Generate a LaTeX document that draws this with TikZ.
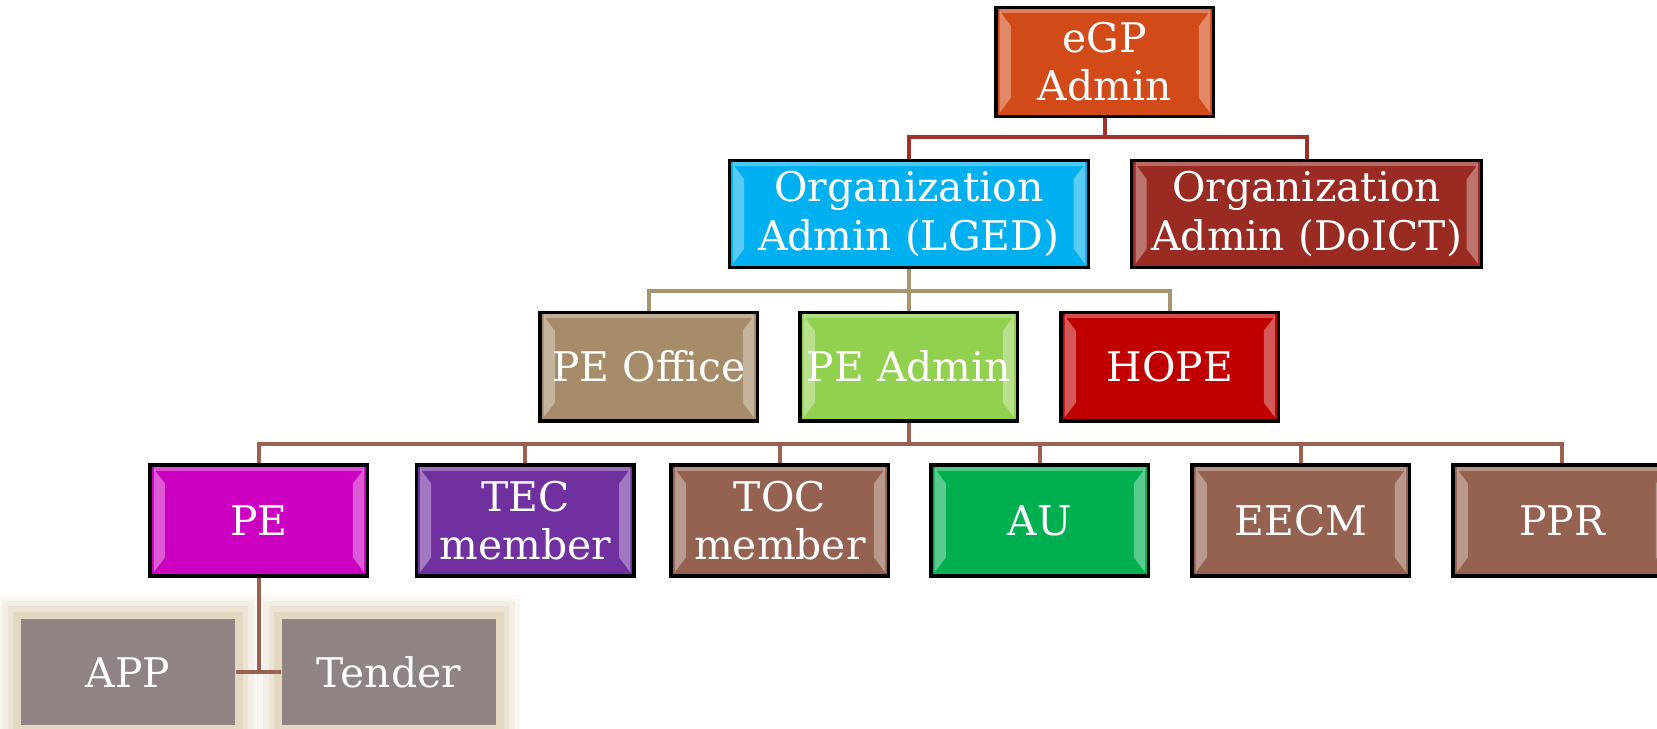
\documentclass[tikz,border=0pt]{standalone}
\usepackage{fontspec}
\setmainfont{DejaVu Serif}
\usetikzlibrary{calc, positioning}
\definecolor{egpOrange}{HTML}{D24A17}
\definecolor{lgedBlue}{HTML}{00B0F0}
\definecolor{doictRed}{HTML}{992B22}
\definecolor{officeTan}{HTML}{A68C69}
\definecolor{adminGreen}{HTML}{92D050}
\definecolor{hopeRed}{HTML}{C00000}
\definecolor{peMagenta}{HTML}{CC00C0}
\definecolor{tecPurple}{HTML}{7030A0}
\definecolor{memberBrown}{HTML}{956251}
\definecolor{auGreen}{HTML}{00B050}
\definecolor{leafGray}{HTML}{8F8383}
\definecolor{glowTan}{HTML}{D8C9AA}
\definecolor{topLine}{HTML}{A0302A}
\definecolor{midLine}{HTML}{A8946F}
\definecolor{lowLine}{HTML}{9B6050}
\newlength{\myBoxWidth}
\setlength{\myBoxWidth}{2.06cm}
\newlength{\myBoxHeight}
\setlength{\myBoxHeight}{1.03cm}
\newcommand{\myBoxFont}{\fontsize{11}{13}\selectfont}

\begin{document}
\begin{tikzpicture}[my box/.style={
                      draw=black, line width=0.9pt, fill=#1, text=white,
                      minimum width=\myBoxWidth, minimum height=\myBoxHeight,
                      inner sep=1pt, align=center, font=\myBoxFont,
                      path picture={
                        \fill[white, opacity=0.35]
                          ([shift={(1pt,-1pt)}]path picture bounding box.north west) --
                          ([shift={(4pt,-5pt)}]path picture bounding box.north west) --
                          ([shift={(4pt,5pt)}]path picture bounding box.south west) --
                          ([shift={(1pt,1pt)}]path picture bounding box.south west) -- cycle;
                        \fill[white, opacity=0.35]
                          ([shift={(-1pt,-1pt)}]path picture bounding box.north east) --
                          ([shift={(-4pt,-5pt)}]path picture bounding box.north east) --
                          ([shift={(-4pt,5pt)}]path picture bounding box.south east) --
                          ([shift={(-1pt,1pt)}]path picture bounding box.south east) -- cycle;
                        \draw[white, opacity=0.3, line width=1pt]
                          ([shift={(1pt,-1pt)}]path picture bounding box.north west) --
                          ([shift={(-1pt,-1pt)}]path picture bounding box.north east);}},
                    my leaf/.style={
                      fill=leafGray, text=white, font=\myBoxFont,
                      minimum width=2.03cm, minimum height=1.0cm,
                      preaction={draw=glowTan, opacity=0.12, line width=13pt},
                      preaction={draw=glowTan, opacity=0.2, line width=10pt},
                      preaction={draw=glowTan, opacity=0.3, line width=7pt},
                      preaction={draw=glowTan, opacity=0.4, line width=4pt}},
                    my link/.style={line width=1.1pt, draw=#1}]

\useasboundingbox (0,0) rectangle (15.68,-6.89);

% levels of the tree
\coordinate (bus1) at (0,-1.30);
\coordinate (bus2) at (0,-2.75);
\coordinate (bus3) at (0,-4.20);

\node[my box=egpOrange] (egp) at (10.455,-0.585) {eGP\\Admin};

\node[my box=lgedBlue, minimum width=3.40cm, minimum height=1.01cm]
  (orglged) at (8.60,-2.025) {Organization\\Admin (LGED)};
\node[my box=doictRed, minimum width=3.31cm, minimum height=1.01cm]
  (orgdoict) at (12.365,-2.025) {Organization\\Admin (DoICT)};

\node[my box=officeTan]  (peoffice) at (6.14,-3.47) {PE Office};
\node[my box=adminGreen] (peadmin)  at (8.60,-3.47) {PE Admin};
\node[my box=hopeRed]    (hope)     at (11.07,-3.47) {HOPE};

\node[my box=peMagenta, minimum height=1.05cm]   (pe)   at (2.45,-4.925) {PE};
\node[my box=tecPurple, minimum height=1.05cm]   (tec)  at (4.97,-4.925) {TEC\\member};
\node[my box=memberBrown, minimum height=1.05cm] (toc)  at (7.38,-4.925) {TOC\\member};
\node[my box=auGreen, minimum height=1.05cm]     (au)   at (9.84,-4.925) {AU};
\node[my box=memberBrown, minimum height=1.05cm] (eecm) at (12.31,-4.925) {EECM};
\node[my box=memberBrown, minimum height=1.05cm] (ppr)  at (14.78,-4.925) {PPR};

\node[my leaf] (app)    at (1.21,-6.36) {APP};
\node[my leaf] (tender) at (3.68,-6.36) {Tender};

% connectors
\begin{scope}[my link=topLine]
\draw (egp.south) -- (egp.south |- bus1) -| (orglged.north);
\draw (egp.south |- bus1) -| (orgdoict.north);
\end{scope}

\begin{scope}[my link=midLine]
\draw (orglged.south) -- (orglged.south |- bus2) -| (peoffice.north);
\draw (orglged.south |- bus2) -| (hope.north);
\draw (orglged.south |- bus2) -- (peadmin.north);
\end{scope}

\begin{scope}[my link=lowLine]
\draw (peadmin.south) -- (peadmin.south |- bus3) -| (pe.north);
\foreach \kid in {tec, toc, au, eecm, ppr}
  \draw (peadmin.south |- bus3) -| (\kid.north);
\draw (pe.south) -- (pe.south |- app.east);
\draw (app.east) -- (tender.west);
\end{scope}
\end{tikzpicture}
\end{document}
